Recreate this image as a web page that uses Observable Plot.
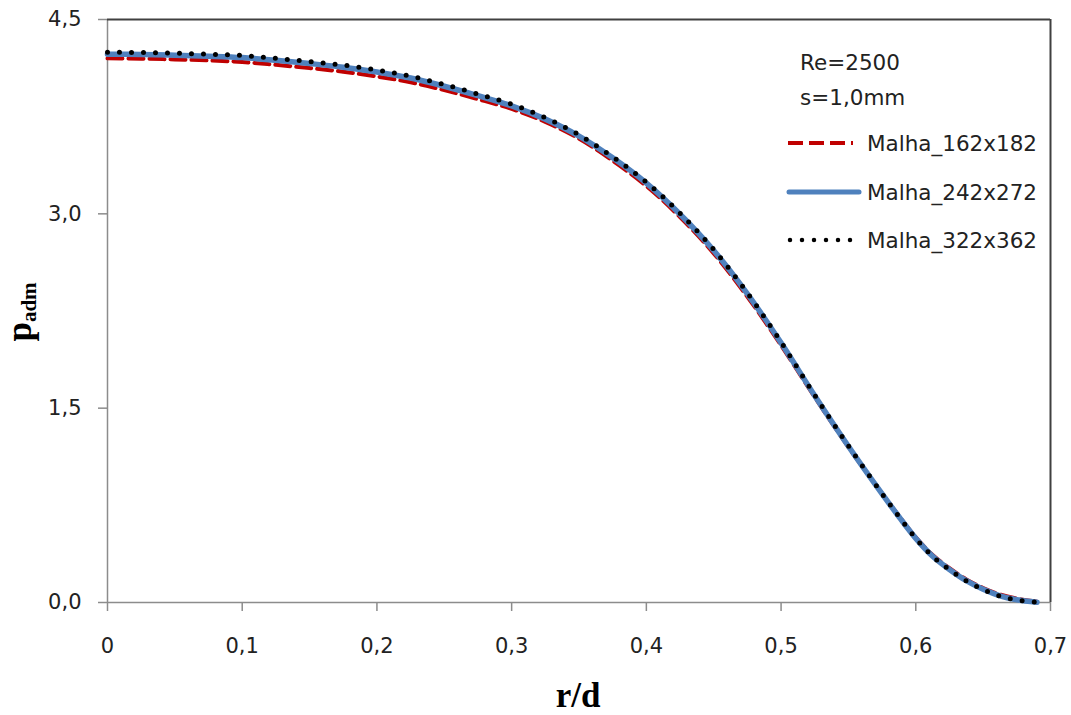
<!DOCTYPE html>
<html>
<head>
<meta charset="utf-8">
<script src="https://cdn.jsdelivr.net/npm/d3@7"></script>
<script src="https://cdn.jsdelivr.net/npm/@observablehq/plot@0.6"></script>
<style>
  html, body { margin: 0; padding: 0; background: #fff; }
  #chart { width: 1071px; height: 715px; }
</style>
</head>
<body>
<div id="chart"></div>
<script>
// ---- data ----
const rValues = [0, 0.025, 0.05, 0.075, 0.1, 0.125, 0.15, 0.175, 0.2, 0.225, 0.25, 0.275, 0.3, 0.325, 0.35, 0.375, 0.4, 0.425, 0.45, 0.475, 0.5, 0.525, 0.55, 0.575, 0.5875, 0.6, 0.6125, 0.625, 0.6375, 0.65, 0.6625, 0.675, 0.69];
const p162 = [4.200, 4.198, 4.192, 4.184, 4.172, 4.150, 4.125, 4.097, 4.060, 4.015, 3.955, 3.885, 3.810, 3.710, 3.580, 3.410, 3.215, 2.975, 2.695, 2.360, 1.985, 1.585, 1.200, 0.840, 0.668, 0.503, 0.366, 0.265, 0.178, 0.112, 0.062, 0.030, 0.006];
const p242 = [4.232, 4.230, 4.225, 4.217, 4.206, 4.185, 4.160, 4.132, 4.095, 4.048, 3.985, 3.912, 3.834, 3.731, 3.600, 3.432, 3.237, 2.997, 2.717, 2.383, 2.004, 1.596, 1.206, 0.838, 0.662, 0.495, 0.357, 0.255, 0.168, 0.102, 0.052, 0.021, 0.002];
const p322 = [4.247, 4.245, 4.240, 4.232, 4.222, 4.200, 4.175, 4.148, 4.110, 4.062, 3.998, 3.925, 3.846, 3.742, 3.610, 3.440, 3.245, 3.005, 2.725, 2.390, 2.010, 1.600, 1.210, 0.840, 0.663, 0.495, 0.356, 0.253, 0.166, 0.100, 0.050, 0.020, 0.002];
const seriesNames = ["Malha_162x182", "Malha_242x272", "Malha_322x362"];
const xTicks = [0, 0.1, 0.2, 0.3, 0.4, 0.5, 0.6, 0.7];
const yTicks = [0, 1.5, 3.0, 4.5];
const annotations = ["Re=2500", "s=1,0mm"];

const toRows = (vals) => rValues.map((r, i) => ({ r, p: vals[i] }));
const d162 = toRows(p162), d242 = toRows(p242), d322 = toRows(p322);

const fmtX = d => d === 0 ? "0" : d.toFixed(1).replace(".", ",");
const fmtY = d => d.toFixed(1).replace(".", ",");

const FONT = "'DejaVu Sans', sans-serif";
const SERIF = "'Liberation Serif', 'Times New Roman', serif";
const RED = "#c00000", BLUE = "#4f81bd";

const chart = Plot.plot({
  width: 1071,
  height: 715,
  marginLeft: 107,
  marginRight: 21,
  marginTop: 19,
  marginBottom: 113,
  style: { fontFamily: FONT, fontSize: "21px", background: "#fff", color: "#222" },
  x: { domain: [0, 0.7] },
  y: { domain: [0, 4.5] },
  marks: [
    Plot.axisX({ ticks: xTicks, tickFormat: fmtX, tickSize: 9, tickPadding: 27, stroke: "#8c8c8c", strokeWidth: 1.5, fill: "#222", fontSize: 21, label: null }),
    Plot.axisY({ ticks: yTicks, tickFormat: fmtY, tickSize: 9, tickPadding: 17, stroke: "#8c8c8c", strokeWidth: 1.5, fill: "#222", fontSize: 21, label: null }),
    Plot.ruleX([0], { stroke: "#8c8c8c", strokeWidth: 1.5 }),
    Plot.ruleY([0], { stroke: "#8c8c8c", strokeWidth: 1.5 }),
    Plot.ruleY([4.5], { stroke: "#404040", strokeWidth: 2 }),
    Plot.ruleX([0.7], { stroke: "#404040", strokeWidth: 2 }),
    Plot.line(d162, { x: "r", y: "p", stroke: RED, strokeWidth: 4, strokeDasharray: "15,6", curve: "catmull-rom" }),
    Plot.line(d242, { x: "r", y: "p", stroke: BLUE, strokeWidth: 5.5, curve: "catmull-rom" }),
    Plot.line(d322, { x: "r", y: "p", stroke: "#000", strokeWidth: 5, strokeDasharray: "0,12", strokeLinecap: "round", curve: "catmull-rom" })
  ]
});
document.getElementById("chart").appendChild(chart);

// ---- axis titles and legend ----
const svg = d3.select(chart);

svg.append("text")
  .attr("x", 578).attr("y", 707)
  .attr("text-anchor", "middle")
  .style("font-family", SERIF).style("font-weight", "bold").style("font-size", "35px")
  .attr("fill", "#000")
  .text("r/d");

const yl = svg.append("text")
  .attr("transform", "translate(31,312) rotate(-90)")
  .attr("text-anchor", "middle")
  .style("font-family", SERIF).style("font-weight", "bold")
  .attr("fill", "#000");
yl.append("tspan").style("font-size", "35px").text("p");
yl.append("tspan").style("font-size", "21px").attr("dy", 5).text("adm");

const lg = svg.append("g")
  .attr("text-anchor", "start")
  .style("font-family", FONT).style("font-size", "21.5px").attr("fill", "#222");
lg.append("text").attr("x", 800).attr("y", 70).attr("text-anchor", "start").text(annotations[0]);
lg.append("text").attr("x", 800).attr("y", 105).attr("text-anchor", "start").text(annotations[1]);

const rows = [
  { y: 143, stroke: RED, width: 4, dash: "15,6", cap: "butt", x1: 788, x2: 853 },
  { y: 192, stroke: BLUE, width: 5, dash: null, cap: "round", x1: 789, x2: 859 },
  { y: 240, stroke: "#000", width: 4.5, dash: "0,12", cap: "round", x1: 790, x2: 852 }
];
rows.forEach((row, i) => {
  const ln = lg.append("line")
    .attr("x1", row.x1).attr("x2", row.x2)
    .attr("y1", row.y).attr("y2", row.y)
    .attr("stroke", row.stroke).attr("stroke-width", row.width)
    .attr("stroke-linecap", row.cap);
  if (row.dash) ln.attr("stroke-dasharray", row.dash);
  lg.append("text").attr("x", 867).attr("y", row.y + 8).attr("text-anchor", "start").text(seriesNames[i]);
});
</script>
</body>
</html>
